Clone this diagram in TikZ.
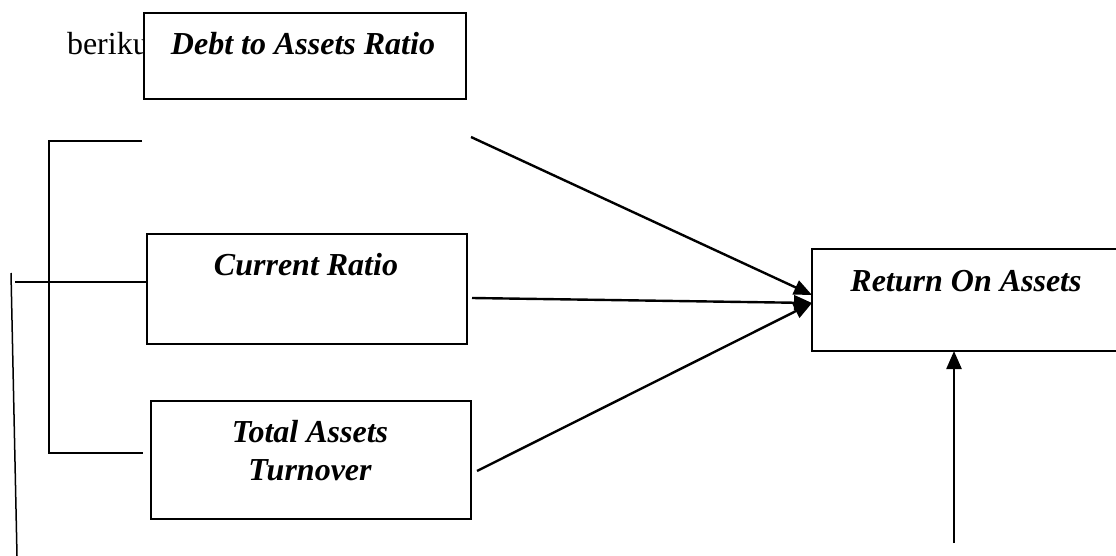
\documentclass[tikz,border=0pt]{standalone}
\usepackage{fontspec}
\setmainfont{Liberation Serif}
\usetikzlibrary{positioning,calc,arrows.meta}

\begin{document}
\begin{tikzpicture}[x=1pt,y=-1pt]
                        \tikzstyle{every node}=[inner sep=0,outer sep=0]
                        \tikzstyle{box}=[draw,rectangle,line width=2.6,fill=white]
                        \tikzstyle{lbl}=[anchor=base,align=center,font=\fontsize{32}{38}\selectfont\bfseries\itshape]
                        \tikzstyle{plain}=[anchor=base west,font=\fontsize{32}{38}\selectfont]
                        \tikzstyle{thin}=[line width=1.5]
                        \tikzstyle{conn}=[line width=2.4,-{Triangle[length=18pt,width=15pt]}]
                        {
                            \fill[white] (0,0) rectangle (1116,556);
                            \clip (0,0) rectangle (1116,556);

                            \node[plain] (beriku) at (67,55) {beriku};
                            \node[box,minimum width=322,minimum height=86] (debt) at (305,56) {};
                            \node[lbl] (debttxt) at (303,55) {Debt to Assets Ratio};

                            \node[box,minimum width=320,minimum height=110] (cur) at (307,289) {};
                            \node[lbl] (curtxt) at (306,275) {Current Ratio};

                            \node[box,minimum width=320,minimum height=118] (tat) at (311,460) {};
                            \node[lbl] (tattxt) at (310,480) {Total Assets\\Turnover};

                            \node[box,minimum width=318,minimum height=102] (roa) at (971,300) {};
                            \node[lbl] (roatxt) at (966,291) {Return On Assets};

                            % bracket on the left
                            \coordinate (b1) at (49,141);
                            \coordinate (b2) at (142,141);
                            \coordinate (b3) at (49,453);
                            \coordinate (b4) at (143,453);
                            \coordinate (h1) at (15,282);
                            \coordinate (v1) at (11,273);
                            \coordinate (v2) at (17,556);
                            \draw[thin] (b2) -- (b1) -- (b3) -- (b4);
                            \draw[thin] (h1) -- (h1 -| cur.west);
                            \draw[thin] (v1) -- (v2);

                            % arrows into ROA
                            \coordinate (d0) at (471,137);
                            \coordinate (up) at (954,543);
                            \draw[conn] (d0) -- ($(roa.west)+(0,-5)$);
                            \draw[conn] ($(cur.east)+(5,9)$) -- ($(roa.west)+(0,3)$);
                            \draw[conn] ($(tat.east)+(6,11)$) -- ($(roa.west)+(0,3)$);
                            \draw[conn] (up) -- (up |- roa.south);
                        }
                    \end{tikzpicture}
\end{document}
